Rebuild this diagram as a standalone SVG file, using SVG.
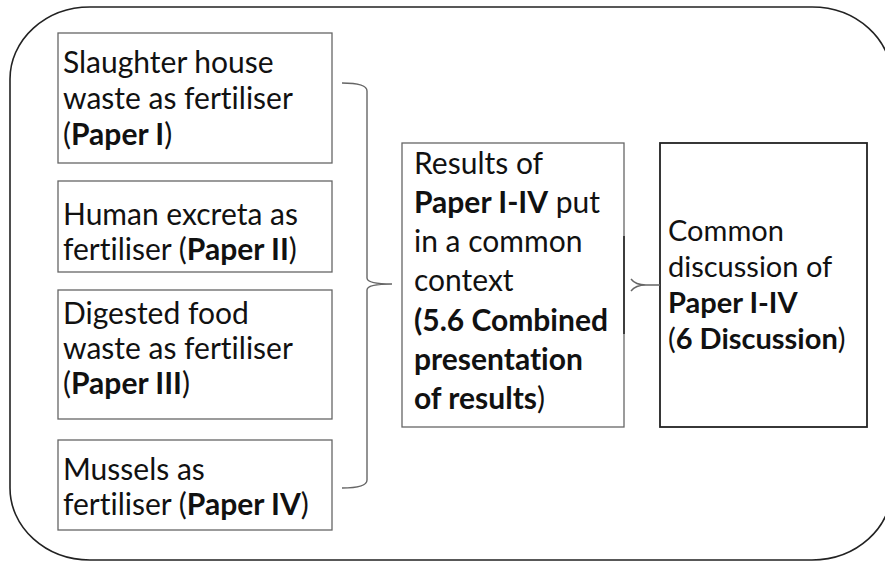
<svg xmlns="http://www.w3.org/2000/svg" width="885" height="562" viewBox="0 0 885 562">
<style>
.t{font-family:Lato,"Liberation Sans",sans-serif;font-size:30px;fill:#111;font-variant-ligatures:none}
.r{font-size:29px}
.b{font-weight:bold}
.box{fill:#fff;stroke:#666;stroke-width:1.3}
.dark{fill:#fff;stroke:#222;stroke-width:1.8}
.con{fill:none;stroke:#666;stroke-width:1.4}
</style>
<rect width="885" height="562" fill="#fff"/>
<g id="frame"><rect x="10" y="7" width="882" height="553" rx="80" ry="72" fill="none" stroke="#222" stroke-width="1.6"/></g>
<g id="n1"><rect class="box" x="58" y="33" width="274" height="130"/>
<text class="t"><tspan x="63" y="73">Slaughter house</tspan><tspan x="63" y="109">waste as fertiliser</tspan><tspan x="63" y="145">(<tspan class="b">Paper I</tspan>)</tspan></text></g>
<g id="n2"><rect class="box" x="58" y="181" width="274" height="91"/>
<text class="t"><tspan x="63" y="225">Human excreta as</tspan><tspan x="63" y="260">fertiliser (<tspan class="b">Paper II</tspan>)</tspan></text></g>
<g id="n3"><rect class="box" x="58" y="290" width="274" height="129"/>
<text class="t"><tspan x="63" y="324">Digested food</tspan><tspan x="63" y="359">waste as fertiliser</tspan><tspan x="63" y="394">(<tspan class="b">Paper III</tspan>)</tspan></text></g>
<g id="n4"><rect class="box" x="58" y="440" width="274" height="90"/>
<text class="t"><tspan x="63" y="480">Mussels as</tspan><tspan x="63" y="515">fertiliser (<tspan class="b">Paper IV</tspan>)</tspan></text></g>
<g id="n5"><rect class="box" x="402" y="143" width="222" height="284"/>
<text class="t"><tspan x="414" y="174">Results of</tspan><tspan x="414" y="213"><tspan class="b">Paper I-IV</tspan> put</tspan><tspan x="414" y="252">in a common</tspan><tspan x="414" y="291">context</tspan><tspan x="414" y="331" class="b">(5.6 Combined</tspan><tspan x="414" y="370" class="b">presentation</tspan><tspan x="414" y="409"><tspan class="b">of results</tspan>)</tspan></text></g>
<g id="n6"><rect class="dark" x="660" y="143" width="207" height="284"/>
<text class="t r"><tspan x="668" y="241">Common</tspan><tspan x="668" y="277">discussion of</tspan><tspan x="668" y="313" class="b">Paper I-IV</tspan><tspan x="668" y="349">(<tspan class="b">6 Discussion</tspan>)</tspan></text></g>
<g id="connectors">
<path class="con" d="M342,83 Q367,83 367,91 V278 Q367,284 392,284 Q367,284 367,290 V480 Q367,488 342,488"/>
<path d="M624,236 V334" stroke="#333" stroke-width="1.8" fill="none"/>
<path class="con" d="M631,279 C634,283 638,285 646,285 H660 M631,291 C634,287 638,285 646,285"/>
</g>
</svg>
